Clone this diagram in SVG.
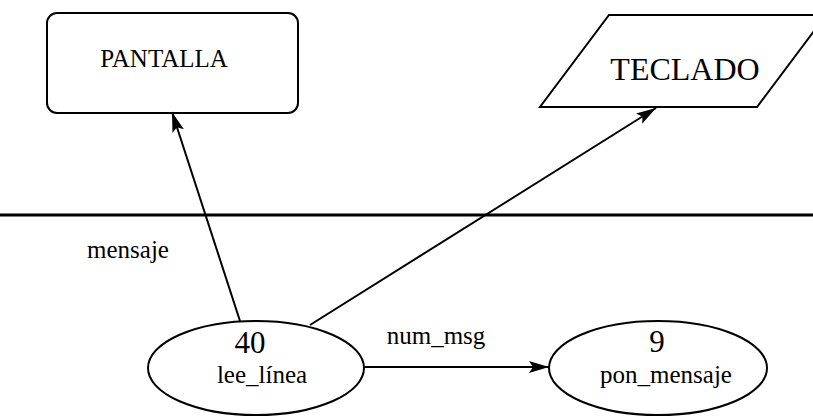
<svg xmlns="http://www.w3.org/2000/svg" width="813" height="417" viewBox="0 0 813 417">
<style>
.s{fill:#fff;stroke:#000;stroke-width:2}
.t{font-family:"Liberation Serif","Times New Roman",serif;fill:#000}
.c{stroke:#000;stroke-width:2;fill:none}
</style>
<defs>
<marker id="ahb" viewBox="0 0 20 12" refX="20" refY="6" markerWidth="20" markerHeight="12" markerUnits="userSpaceOnUse" orient="auto">
<path d="M0,0 L20,6 L0,12 L4,6 z" fill="#000"/>
</marker>
</defs>
<rect width="813" height="417" fill="#fff"/>
<line x1="0" y1="215" x2="813" y2="215" stroke="#000" stroke-width="3"/>
<g id="pantalla">
<rect class="s" x="47" y="13" width="251" height="100" rx="10"/>
<text class="t" x="164" y="67" font-size="25" text-anchor="middle">PANTALLA</text>
</g>
<g id="teclado">
<polygon class="s" points="609,15 826,15 757,107 540,107"/>
<text class="t" x="685" y="80" font-size="32" text-anchor="middle">TECLADO</text>
</g>
<g id="connectors">
<line class="c" x1="240" y1="321" x2="172" y2="112" marker-end="url(#ahb)"/>
<line class="c" x1="310" y1="325" x2="656" y2="108" marker-end="url(#ahb)"/>
<line class="c" x1="364" y1="367" x2="549" y2="367" marker-end="url(#ahb)"/>
<text class="t" x="128" y="258" font-size="25" text-anchor="middle">mensaje</text>
<text class="t" x="436" y="344" font-size="25" text-anchor="middle">num_msg</text>
</g>
<g id="lee_linea">
<ellipse class="s" cx="256" cy="368" rx="108" ry="47"/>
<text class="t" x="250" y="353" font-size="31" text-anchor="middle">40</text>
<text class="t" x="262" y="383" font-size="25" text-anchor="middle">lee_línea</text>
</g>
<g id="pon_mensaje">
<ellipse class="s" cx="658" cy="368" rx="109" ry="47"/>
<text class="t" x="657" y="352" font-size="31" text-anchor="middle">9</text>
<text class="t" x="666" y="383" font-size="25" text-anchor="middle">pon_mensaje</text>
</g>
</svg>
